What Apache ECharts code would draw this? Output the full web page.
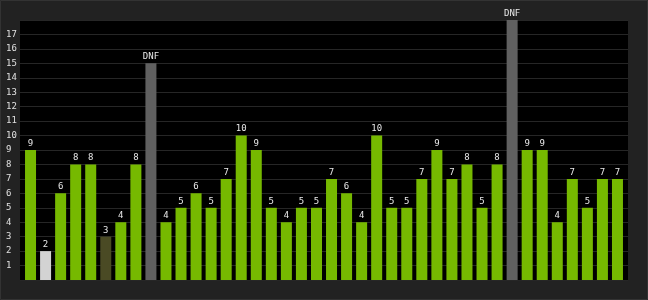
<!DOCTYPE html>
<html><head><meta charset="utf-8">
<script src="https://cdn.jsdelivr.net/npm/echarts@6/dist/echarts.min.js"></script>
<style>html,body{margin:0;padding:0;background:#222;}#c{width:648px;height:300px;}</style>
</head><body><div id="c"></div>
<script>
const categories = ['1','2','3','4','5','6','7','8','9','10','11','12','13','14','15','16','17','18','19','20','21','22','23','24','25','26','27','28','29','30','31','32','33','34','35','36','37','38','39','40'];
const values = [9,2,6,8,8,3,4,8,15,4,5,6,5,7,10,9,5,4,5,5,7,6,4,10,5,5,7,9,7,8,5,8,18,9,9,4,7,5,7,7];
const labels = ['9','2','6','8','8','3','4','8','DNF','4','5','6','5','7','10','9','5','4','5','5','7','6','4','10','5','5','7','9','7','8','5','8','DNF','9','9','4','7','5','7','7'];
const kinds = ['g','w','g','g','g','o','g','g','d','g','g','g','g','g','g','g','g','g','g','g','g','g','g','g','g','g','g','g','g','g','g','g','d','g','g','g','g','g','g','g'];
const yTicks = [1,2,3,4,5,6,7,8,9,10,11,12,13,14,15,16,17];

const colorMap = {g:'#76b900', w:'#d3d3d3', o:'#4a4a24', d:'#606060'};
const font = 'DejaVu Sans Mono';
const chart = echarts.init(document.getElementById('c'), null, {renderer:'canvas'});
chart.setOption({
  animation:false,
  backgroundColor:'#222222',
  graphic:[{type:'rect', shape:{x:0.5,y:0.5,width:647,height:299}, style:{fill:null, stroke:'#333333', lineWidth:1}, silent:true}],
  grid:[
    {left:20,right:20,top:20,bottom:20,show:true,backgroundColor:'#000',borderWidth:0},
    {left:23,right:23,top:20,bottom:20}
  ],
  xAxis:[
    {gridIndex:0,type:'category',data:categories,show:false},
    {gridIndex:1,type:'category',data:categories,show:false}
  ],
  yAxis:[
    {gridIndex:0,type:'value',min:0,max:18,interval:1,
     axisLine:{show:false},axisTick:{show:false},
     splitLine:{show:true,lineStyle:{color:'#262626',width:1}},
     axisLabel:{show:true,align:'left',margin:14,color:'#e0e0e0',fontFamily:font,fontSize:9,
       formatter:v=> (yTicks.indexOf(v)>=0 ? String(v) : '')}},
    {gridIndex:1,type:'value',min:0,max:18,show:false,splitLine:{show:false}}
  ],
  series:[{
    type:'bar',xAxisIndex:1,yAxisIndex:1,barWidth:11,
    data: values.map((v,i)=>({value:v,itemStyle:{color:colorMap[kinds[i]]},
      label:{show:true,position:'top',distance:2,formatter:labels[i],color:'#e8e8e8',fontFamily:font,fontSize:9}}))
  }]
});
</script></body></html>
